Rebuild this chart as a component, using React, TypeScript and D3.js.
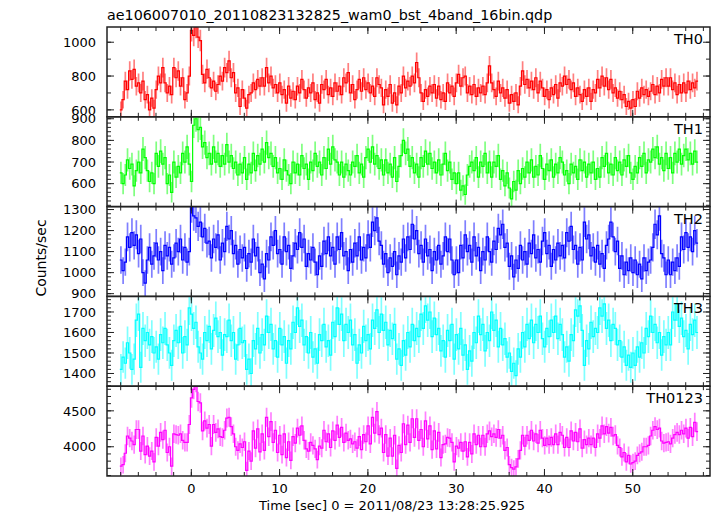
import React from 'react';
import * as d3 from 'd3';

const W = 717, H = 516;
const TITLE = 'ae106007010_20110823132825_wam0_bst_4band_16bin.qdp';
const X_LABEL = 'Time [sec] 0 = 2011/08/23 13:28:25.925';
const Y_LABEL = 'Counts/sec';
const BIN_START = -8.1;
const BIN_WIDTH = 0.25;
const X_DOMAIN = [-9.55, 58.75];
const X_MAJOR = [0, 10, 20, 30, 40, 50];
const X_MINOR_STEP = 2;
const PANEL_NAMES = ['TH0', 'TH1', 'TH2', 'TH3', 'TH0123'];
const PANEL_COLORS = ['#ff0000', '#00ff00', '#0000ff', '#00ffff', '#ff00ff'];
const Y_DOMAINS = [[559, 1090], [494, 909], [887, 1314], [1338, 1776], [3593, 4843]];
const Y_LABEL_TICKS = [[600, 800, 1000], [600, 700, 800, 900], [900, 1000, 1100, 1200, 1300], [1400, 1500, 1600, 1700], [4000, 4500]];
const Y_MINOR_STEP = [100, 20, 20, 20, 100];

// counts/sec per 0.25 s bin, starting at t = -8.1 s
const TH0 = [
  600, 660, 770, 720, 830, 780, 840, 740,
  760, 700, 770, 660, 690, 600, 670, 610,
  720, 800, 760, 850, 760, 700, 740, 690,
  850, 790, 830, 740, 790, 660, 700, 800,
  1070, 1040, 1090, 1030, 1010, 810, 760, 840,
  790, 730, 770, 710, 750, 800, 770, 850,
  820, 890, 790, 820, 700, 730, 620, 720,
  670, 610, 690, 700, 760, 720, 780, 740,
  790, 740, 850, 760, 800, 730, 750, 700,
  760, 690, 720, 640, 740, 670, 710, 660,
  740, 700, 780, 720, 670, 730, 700, 760,
  660, 700, 640, 750, 720, 780, 690, 730,
  680, 760, 710, 740, 690, 790, 760, 820,
  700, 750, 660, 720, 780, 710, 790, 720,
  760, 700, 740, 680, 790, 750, 730, 630,
  720, 680, 750, 640, 700, 630, 740, 700,
  800, 730, 770, 740, 800, 760, 880, 790,
  700, 650, 720, 680, 740, 700, 750, 670,
  740, 660, 700, 650, 760, 700, 740, 680,
  760, 810, 740, 790, 800, 700, 740, 690,
  750, 680, 730, 700, 740, 690, 760, 860,
  760, 720, 680, 770, 700, 730, 670, 720,
  640, 690, 650, 700, 630, 740, 830, 750,
  780, 730, 770, 720, 790, 700, 770, 730,
  680, 720, 660, 730, 690, 750, 670, 760,
  740, 800, 750, 780, 720, 760, 680, 730,
  690, 650, 720, 680, 730, 650, 720, 700,
  780, 730, 800, 740, 790, 720, 780, 700,
  730, 670, 710, 660, 690, 620, 650, 610,
  660, 620, 710, 670, 730, 690, 720, 680,
  710, 750, 690, 740, 700, 780, 740, 790,
  740, 790, 720, 760, 690, 750, 700, 760,
  700, 770, 720, 760, 730, 770,
];

const TH1 = [
  650, 600, 640, 710, 670, 690, 590, 660,
  700, 650, 760, 720, 660, 610, 650, 600,
  740, 680, 750, 690, 720, 600, 640, 560,
  700, 630, 680, 650, 740, 700, 770, 690,
  610, 870, 900, 850, 860, 770, 790, 720,
  740, 690, 770, 700, 740, 680, 730, 690,
  780, 700, 730, 670, 700, 640, 690, 650,
  720, 620, 690, 650, 740, 660, 730, 690,
  760, 700, 790, 720, 740, 680, 720, 650,
  670, 620, 710, 660, 640, 600, 700, 650,
  690, 640, 730, 670, 690, 620, 700, 660,
  740, 680, 700, 640, 720, 670, 760, 690,
  770, 710, 700, 640, 700, 630, 690, 660,
  640, 700, 680, 730, 650, 690, 630, 720,
  760, 700, 770, 690, 730, 670, 710, 640,
  710, 650, 690, 630, 720, 610, 680, 730,
  800, 740, 760, 680, 720, 650, 690, 630,
  720, 680, 750, 690, 740, 670, 700, 650,
  710, 640, 690, 740, 660, 700, 620, 650,
  600, 650, 570, 590, 550, 640, 680, 700,
  660, 720, 630, 700, 680, 740, 650, 700,
  630, 700, 680, 730, 620, 660, 590, 650,
  580, 530, 610, 570, 660, 600, 670, 630,
  700, 650, 710, 630, 680, 640, 730, 670,
  620, 690, 660, 710, 630, 690, 650, 720,
  700, 640, 660, 600, 690, 650, 680, 620,
  710, 660, 700, 630, 690, 650, 700, 620,
  670, 630, 720, 680, 740, 650, 690, 640,
  720, 660, 700, 640, 710, 680, 730, 650,
  620, 680, 650, 720, 680, 740, 650, 710,
  700, 760, 720, 770, 690, 720, 660, 740,
  670, 720, 650, 740, 700, 760, 690, 730,
  760, 710, 740, 690, 750, 700,
];

const TH2 = [
  1060, 1010, 1050, 1170, 1120, 1190, 1130, 1180,
  1090, 1160, 1000, 950, 1060, 1120, 1040, 1080,
  1140, 1060, 1100, 1010, 1130, 1080, 1120, 1040,
  1070, 1140, 1100, 1160, 1060, 1120, 1050, 1100,
  1310, 1270, 1260, 1220, 1240, 1170, 1210, 1140,
  1150, 1070, 1160, 1120, 1180, 1060, 1140, 1100,
  1220, 1160, 1200, 1090, 1130, 1040, 1110, 1070,
  1120, 1020, 1090, 1050, 1160, 1080, 1120, 1000,
  1040, 970, 1090, 1060, 1170, 1130, 1200, 1090,
  1110, 1040, 1170, 1100, 1130, 1020, 1080, 1140,
  1110, 1190, 1120, 1160, 1030, 1090, 1060, 1120,
  1050, 990, 1080, 1030, 1150, 1090, 1170, 1080,
  1120, 1040, 1170, 1110, 1190, 1080, 1100, 1010,
  1110, 1050, 1140, 1080, 1170, 1060, 1120, 1070,
  1180, 1120, 1240, 1200, 1260, 1150, 1130, 1040,
  1090, 1000, 1070, 1030, 1100, 990, 1080, 1050,
  1160, 1070, 1170, 1110, 1230, 1160, 1200, 1090,
  1130, 1050, 1160, 1080, 1110, 1010, 1100, 1060,
  1130, 1040, 1080, 1170, 1100, 1160, 1060, 990,
  1060, 1000, 1130, 1070, 1180, 1100, 1130, 1050,
  1170, 1080, 1120, 1010, 1100, 1060, 1170, 1100,
  1050, 1150, 1110, 1210, 1180, 1230, 1120, 1140,
  1030, 1080, 980, 1060, 1020, 1130, 1060, 1100,
  1040, 1140, 1090, 1180, 1070, 1110, 1050, 1150,
  1190, 1090, 1130, 1030, 1110, 1060, 1140, 1080,
  1130, 1070, 1190, 1150, 1220, 1110, 1130, 1040,
  1120, 1060, 1240, 1160, 1180, 1080, 1120, 1050,
  1130, 1040, 1090, 1020, 1130, 1160, 1240, 1170,
  1100, 1150, 1020, 1080, 990, 1050, 1010, 1070,
  1000, 1060, 990, 1040, 970, 1070, 1010, 1050,
  1060, 1120, 1230, 1180, 1270, 1090, 1070, 990,
  1060, 990, 1050, 1010, 1070, 1030, 1170, 1110,
  1190, 1120, 1170, 1100, 1200, 1140,
];

const TH3 = [
  1420, 1480, 1450, 1550, 1500, 1420, 1470, 1660,
  1690, 1430, 1620, 1560, 1600, 1540, 1580, 1500,
  1530, 1470, 1590, 1550, 1620, 1540, 1500, 1440,
  1560, 1610, 1550, 1630, 1500, 1580, 1540, 1720,
  1690, 1620, 1650, 1530, 1500, 1470, 1600, 1560,
  1630, 1520, 1610, 1670, 1580, 1600, 1490, 1590,
  1580, 1660, 1560, 1600, 1470, 1540, 1620, 1550,
  1560, 1420, 1470, 1400, 1560, 1520, 1620, 1500,
  1590, 1540, 1680, 1600, 1640, 1520, 1560, 1480,
  1620, 1540, 1580, 1450, 1560, 1520, 1650, 1600,
  1720, 1630, 1660, 1540, 1580, 1500, 1600, 1480,
  1520, 1450, 1590, 1560, 1640, 1530, 1560, 1490,
  1650, 1580, 1720, 1640, 1690, 1560, 1640, 1600,
  1660, 1540, 1590, 1450, 1540, 1500, 1630, 1560,
  1590, 1520, 1660, 1620, 1710, 1600, 1690, 1610,
  1650, 1540, 1610, 1570, 1640, 1470, 1520, 1440,
  1560, 1490, 1600, 1530, 1640, 1560, 1620, 1580,
  1690, 1620, 1730, 1660, 1700, 1580, 1670, 1590,
  1620, 1510, 1560, 1480, 1610, 1560, 1640, 1470,
  1590, 1520, 1620, 1490, 1540, 1420, 1510, 1460,
  1600, 1550, 1680, 1590, 1640, 1510, 1600, 1560,
  1700, 1610, 1660, 1530, 1620, 1540, 1570, 1480,
  1500, 1410, 1450, 1390, 1520, 1480, 1600, 1530,
  1640, 1570, 1660, 1550, 1640, 1600, 1680, 1570,
  1530, 1620, 1580, 1660, 1600, 1680, 1570, 1640,
  1590, 1480, 1530, 1460, 1590, 1560, 1710, 1680,
  1730, 1610, 1440, 1560, 1520, 1650, 1580, 1620,
  1600, 1720, 1680, 1740, 1620, 1660, 1560, 1640,
  1620, 1540, 1560, 1480, 1530, 1440, 1490, 1430,
  1500, 1440, 1530, 1480, 1550, 1500, 1620, 1580,
  1680, 1600, 1640, 1550, 1600, 1490, 1580, 1540,
  1600, 1540, 1700, 1660, 1740, 1630, 1670, 1580,
  1610, 1520, 1640, 1590, 1660, 1600,
];

const N = Math.min(TH0.length, TH1.length, TH2.length, TH3.length);
// TH0123 is the sum of the four bands
const TH0123 = d3.range(N).map(i => TH0[i] + TH1[i] + TH2[i] + TH3[i]);
const SERIES = [TH0, TH1, TH2, TH3, TH0123];

const LEFT = 107, RIGHT = 710, TOP = 27, BOTTOM = 476;
const PH = (BOTTOM - TOP) / 5;
const FONT = "'DejaVu Sans', 'Liberation Sans', Arial, sans-serif";

function Panel({ idx, x }: { idx: number; x: d3.ScaleLinear<number, number> }) {
  const top = TOP + idx * PH;
  const bottom = top + PH;
  const y = d3.scaleLinear().domain(Y_DOMAINS[idx]).range([bottom, top]);
  const data = SERIES[idx].slice(0, N);
  const color = PANEL_COLORS[idx];
  const clipId = `clip${idx}`;
  const stepPts: [number, number][] = [];
  data.forEach((v, i) => {
    const t0 = BIN_START + i * BIN_WIDTH;
    stepPts.push([x(t0), y(v)]);
    stepPts.push([x(t0 + BIN_WIDTH), y(v)]);
  });
  const line = d3.line();
  const [d0, d1] = Y_DOMAINS[idx];
  const ms = Y_MINOR_STEP[idx];
  const minor = d3.range(Math.ceil(d0 / ms) * ms, d1, ms);
  const xMinor = d3.range(Math.ceil(X_DOMAIN[0] / X_MINOR_STEP) * X_MINOR_STEP, X_DOMAIN[1], X_MINOR_STEP);
  return (
    <g>
      <defs>
        <clipPath id={clipId}>
          <rect x={LEFT} y={top} width={RIGHT - LEFT} height={PH} />
        </clipPath>
      </defs>
      <g clipPath={`url(#${clipId})`}>
        {data.map((v, i) => {
          const tc = BIN_START + (i + 0.5) * BIN_WIDTH;
          const err = Math.sqrt(v * BIN_WIDTH) / BIN_WIDTH;
          return (
            <line key={i} x1={x(tc)} x2={x(tc)} y1={y(v - err)} y2={y(v + err)}
              stroke={color} strokeOpacity={0.5} strokeWidth={1.7} />
          );
        })}
        <path d={line(stepPts) || ''} fill="none" stroke={color} strokeWidth={1.2} />
      </g>
      {minor.map(v => (
        <g key={'m' + v}>
          <line x1={LEFT} x2={LEFT + 4} y1={y(v)} y2={y(v)} stroke="#222" strokeWidth={1} />
          <line x1={RIGHT} x2={RIGHT - 4} y1={y(v)} y2={y(v)} stroke="#222" strokeWidth={1} />
        </g>
      ))}
      {Y_LABEL_TICKS[idx].map(v => (
        <g key={'M' + v}>
          <line x1={LEFT} x2={LEFT + 7} y1={y(v)} y2={y(v)} stroke="#222" strokeWidth={1} />
          <line x1={RIGHT} x2={RIGHT - 7} y1={y(v)} y2={y(v)} stroke="#222" strokeWidth={1} />
          <text x={96} y={y(v)} dy="0.36em" textAnchor="end" fontSize={13} fontFamily={FONT} fill="#000">{v}</text>
        </g>
      ))}
      {xMinor.map(t => (
        <g key={'xm' + t}>
          <line x1={x(t)} x2={x(t)} y1={bottom} y2={bottom - 4} stroke="#222" strokeWidth={1} />
          <line x1={x(t)} x2={x(t)} y1={top} y2={top + 4} stroke="#222" strokeWidth={1} />
        </g>
      ))}
      {X_MAJOR.map(t => (
        <g key={'xM' + t}>
          <line x1={x(t)} x2={x(t)} y1={bottom} y2={bottom - 7} stroke="#222" strokeWidth={1} />
          <line x1={x(t)} x2={x(t)} y1={top} y2={top + 7} stroke="#222" strokeWidth={1} />
        </g>
      ))}
      <rect x={LEFT} y={top} width={RIGHT - LEFT} height={PH} fill="none" stroke="#222" strokeWidth={1.5} />
      <text x={703} y={top + 17} textAnchor="end" fontSize={14.5} fontFamily={FONT} fill="#000">{PANEL_NAMES[idx]}</text>
    </g>
  );
}

export default function App() {
  const x = d3.scaleLinear().domain(X_DOMAIN).range([LEFT, RIGHT]);
  return (
    <svg width={W} height={H} style={{ position: 'absolute', left: 0, top: 0, background: '#fff' }}>
      <rect x={0} y={0} width={W} height={H} fill="#fff" />
      <text x={107} y={20} fontSize={14.3} fontFamily={FONT} fill="#000">{TITLE}</text>
      {PANEL_NAMES.map((_, i) => <Panel key={i} idx={i} x={x} />)}
      {X_MAJOR.map(t => (
        <text key={t} x={x(t)} y={493} textAnchor="middle" fontSize={13} fontFamily={FONT} fill="#000">{t}</text>
      ))}
      <text x={392} y={510} textAnchor="middle" fontSize={13} fontFamily={FONT} fill="#000">{X_LABEL}</text>
      <text transform="translate(46,258) rotate(-90)" textAnchor="middle" fontSize={14} fontFamily={FONT} fill="#000">{Y_LABEL}</text>
    </svg>
  );
}
